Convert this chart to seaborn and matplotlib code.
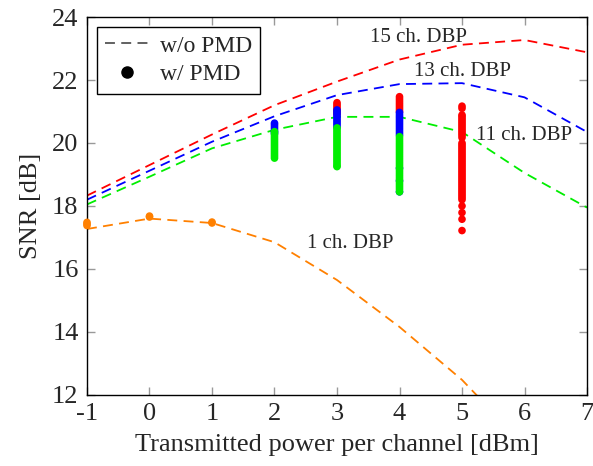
import seaborn as sns
import matplotlib.pyplot as plt
import pandas as pd
from matplotlib.lines import Line2D

# transmitted power per channel [dBm]
power = [-1, 0, 1, 2, 3, 4, 5, 6, 7]

# SNR without PMD (dashed curves)
snr_15ch = [18.33, 19.30, 20.27, 21.20, 21.95, 22.65, 23.12, 23.27, 22.88]
snr_13ch = [18.20, 19.12, 20.04, 20.85, 21.52, 21.87, 21.90, 21.45, 20.35]
snr_11ch = [18.05, 18.93, 19.83, 20.42, 20.83, 20.83, 20.35, 19.05, 17.95]
snr_1ch = [17.27, 17.60, 17.46, 16.85, 15.65, 14.16, 12.48, 10.40, 8.00]

# SNR with PMD (one dot per realisation), keyed by power
pmd_15ch = {
    3: [21.28, 21.22, 21.16, 21.10, 21.04, 20.98, 20.92],
    4: [21.47, 21.41, 21.35, 21.29, 21.23, 21.17, 21.11, 21.05, 20.99],
    5: [21.17, 21.10, 20.89, 20.84, 20.78, 20.72, 20.66, 20.60, 20.54, 20.48,
        20.42, 20.36, 20.30, 20.24, 20.17, 20.00, 19.94, 19.88, 19.82, 19.76,
        19.70, 19.64, 19.58, 19.52, 19.46, 19.40, 19.34, 19.28, 19.22, 19.16,
        19.10, 19.04, 18.98, 18.92, 18.86, 18.80, 18.74, 18.68, 18.62, 18.56,
        18.50, 18.44, 18.38, 18.32, 18.26, 18.20, 18.00, 17.79, 17.58, 17.22],
}
pmd_13ch = {
    2: [20.63, 20.58, 20.52, 20.46, 20.40, 20.35, 20.30],
    3: [21.05, 20.99, 20.93, 20.87, 20.81, 20.75, 20.69, 20.63, 20.57, 20.50],
    4: [20.97, 20.91, 20.85, 20.79, 20.73, 20.67, 20.61, 20.55, 20.49, 20.43,
        20.37, 20.31, 20.25, 19.20, 18.80, 18.45],
}
pmd_11ch = {
    2: [20.36, 20.30, 20.24, 20.18, 20.12, 20.06, 20.00, 19.94, 19.88, 19.82,
        19.76, 19.70, 19.64, 19.58, 19.52],
    3: [20.48, 20.42, 20.36, 20.30, 20.24, 20.18, 20.12, 20.06, 20.00, 19.94,
        19.88, 19.82, 19.76, 19.70, 19.64, 19.58, 19.52, 19.46, 19.40, 19.34,
        19.28, 19.25],
    4: [20.20, 20.14, 20.08, 20.02, 19.96, 19.90, 19.84, 19.78, 19.72, 19.66,
        19.60, 19.54, 19.48, 19.42, 19.36, 19.30, 19.24, 19.18, 19.12, 19.06,
        19.00, 18.94, 18.88, 18.82, 18.76, 18.70, 18.64, 18.58, 18.52, 18.45],
}
pmd_1ch = {
    -1: [17.48, 17.43, 17.38],
    0: [17.68, 17.65],
    1: [17.49, 17.46],
}

series = ["15 ch.", "13 ch.", "11 ch.", "1 ch."]
colors = {"15 ch.": "#ff0000", "13 ch.": "#0000ff",
          "11 ch.": "#00ee00", "1 ch.": "#ff8000"}

curves = pd.DataFrame({
    "power": power * 4,
    "snr": snr_15ch + snr_13ch + snr_11ch + snr_1ch,
    "ch": [s for s in series for _ in power],
})

rows = []
for name, d in zip(series, [pmd_15ch, pmd_13ch, pmd_11ch, pmd_1ch]):
    for p, vals in d.items():
        for v in vals:
            rows.append((p, v, name))
dots = pd.DataFrame(rows, columns=["power", "snr", "ch"])

sns.set_style("ticks")
plt.rcParams['font.family'] = ['Liberation Serif', 'DejaVu Serif']
plt.rcParams['axes.unicode_minus'] = False

fig = plt.figure(figsize=(5.93, 4.66), dpi=100)
ax = fig.add_axes([0.1467, 0.1524, 0.8432, 0.8111])

sns.scatterplot(data=dots, x="power", y="snr", hue="ch", palette=colors,
                s=30, linewidth=0, legend=False, ax=ax, zorder=3,
                clip_on=False)
sns.lineplot(data=curves, x="power", y="snr", hue="ch", palette=colors,
             linewidth=1.3, legend=False, ax=ax, zorder=2)
for line in ax.get_lines():
    line.set_dashes((5.5, 3.5))

ax.text(4.3, 23.34, "15 ch. DBP", fontsize=15, ha="center", va="center")
ax.text(5.01, 22.26, "13 ch. DBP", fontsize=15, ha="center", va="center")
ax.text(6.0, 20.25, "11 ch. DBP", fontsize=15, ha="center", va="center")
ax.text(3.21, 16.82, "1 ch. DBP", fontsize=15, ha="center", va="center")

ax.set_xlim(-1, 7)
ax.set_ylim(12, 24)
ax.set_xticks(range(-1, 8))
ax.set_yticks(range(12, 25, 2))
ax.set_xlabel("Transmitted power per channel [dBm]", fontsize=19, labelpad=6)
ax.set_ylabel("SNR [dB]", fontsize=19, labelpad=7)
ax.tick_params(direction="in", top=True, right=True, length=6, width=1,
               color="#999999", labelsize=19, pad=6)
for sp in ax.spines.values():
    sp.set_color("black")
    sp.set_linewidth(1.0)

handles = [
    Line2D([], [], color="#555555", linestyle=(0, (5.5, 3.5)), linewidth=1.3),
    Line2D([], [], color="black", marker="o", linestyle="none", markersize=8),
]
leg = ax.legend(handles, ["w/o PMD", "w/ PMD"], loc="upper left",
                fontsize=17, fancybox=False, edgecolor="black", framealpha=1,
                borderpad=0.35, handlelength=1.8, handletextpad=0.5,
                labelspacing=0.3, borderaxespad=0,
                bbox_to_anchor=(0.02, 0.974))
leg.get_frame().set_linewidth(1.0)

fig.savefig("out.png", dpi=100)
